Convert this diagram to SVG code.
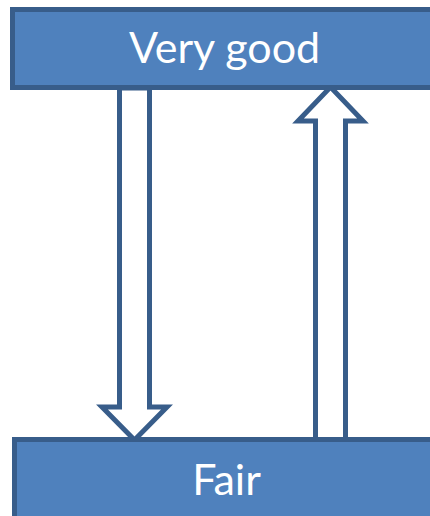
<svg xmlns="http://www.w3.org/2000/svg" width="430" height="516" viewBox="0 0 430 516">
  <style>
    .box { fill: #4f81bd; stroke: #385d8a; stroke-width: 5; }
    .arrow { fill: #ffffff; stroke: #385d8a; stroke-width: 5; stroke-linejoin: miter; }
    .label { fill: #ffffff; font-family: Lato, "Open Sans", sans-serif; font-size: 43px; text-anchor: middle; }
  </style>
  <rect width="430" height="516" fill="#ffffff"/>
  <g id="connectors">
    <polygon id="arrow-down" class="arrow" points="119.5,88 149.5,88 149.5,407 167,407 134.5,440 102,407 119.5,407"/>
    <polygon id="arrow-up" class="arrow" points="315.5,440 345.5,440 345.5,121 363,121 330.5,87 298,121 315.5,121"/>
  </g>
  <g id="very-good">
    <rect class="box" x="12.5" y="9.5" width="430" height="78"/>
    <text class="label" x="224.5" y="63">Very good</text>
  </g>
  <g id="fair">
    <rect class="box" x="14.5" y="439.5" width="430" height="90"/>
    <text class="label" x="226.5" y="495">Fair</text>
  </g>
</svg>
